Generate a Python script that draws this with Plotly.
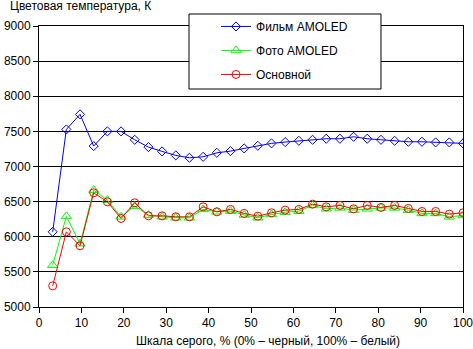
import plotly.graph_objects as go

n = 31
x_vals = [round(i * 100 / n, 2) for i in range(1, n + 1)]

film_amoled = [6070, 7528, 7742, 7291, 7500, 7500, 7380, 7276, 7215, 7158, 7124, 7138, 7195, 7219, 7257,
               7295, 7329, 7348, 7366, 7380, 7395, 7395, 7423, 7395, 7380, 7366, 7352, 7352, 7343, 7343, 7329]
foto_amoled = [5595, 6290, 5900, 6664, 6521, 6284, 6436, 6308, 6284, 6270, 6270, 6389, 6355, 6365, 6310,
               6270, 6317, 6350, 6365, 6446, 6398, 6410, 6379, 6398, 6410, 6410, 6379, 6332, 6332, 6284, 6303]
osnovnoy = [5301, 6070, 5871, 6626, 6497, 6260, 6483, 6298, 6298, 6284, 6284, 6426, 6355, 6389, 6332,
            6293, 6341, 6379, 6389, 6464, 6426, 6446, 6398, 6446, 6417, 6446, 6403, 6360, 6360, 6322, 6341]

series_names = ["Фильм AMOLED", "Фото AMOLED", "Основной"]
x_ticks = list(range(0, 101, 10))
y_ticks = list(range(5000, 9001, 500))

FONT = "Liberation Sans, Arial, sans-serif"

fig = go.Figure()
fig.add_trace(go.Scatter(x=x_vals, y=film_amoled, name=series_names[0], mode="lines+markers",
                         line=dict(color="#0000FF", width=1), legendgroup="a",
                         marker=dict(symbol="diamond-open", size=7, color="#0000FF", line=dict(width=1))))
fig.add_trace(go.Scatter(x=x_vals, y=foto_amoled, name=series_names[1], mode="lines+markers",
                         line=dict(color="#00FF00", width=1), legendgroup="b",
                         marker=dict(symbol="triangle-up-open", size=9, color="#00FF00", line=dict(width=1))))
fig.add_trace(go.Scatter(x=x_vals, y=osnovnoy, name=series_names[2], mode="lines+markers",
                         line=dict(color="#FF0000", width=1), legendgroup="c",
                         marker=dict(symbol="circle-open", size=8, color="#FF0000", line=dict(width=1))))

fig.update_layout(
    width=473, height=349,
    margin=dict(l=39, r=10, t=26, b=42, autoexpand=False),
    paper_bgcolor="white", plot_bgcolor="white",
    font=dict(family=FONT, size=12, color="black"),
    showlegend=True,
    legend=dict(x=0.4175, y=1.05, xanchor="left", yanchor="top",
                bgcolor="rgba(0,0,0,0)", borderwidth=0,
                traceorder="grouped", tracegroupgap=5,
                font=dict(family=FONT, size=12, color="black")),
    shapes=[dict(type="rect", xref="paper", yref="paper",
                 x0=0.3538, x1=0.8066, y0=0.7758, y1=1.0427,
                 line=dict(color="black", width=1), fillcolor="white", layer="above")],
    annotations=[
        dict(text="Цветовая температура, К", xref="paper", yref="paper",
             x=-0.0731, y=1.071, xanchor="left", yanchor="middle", showarrow=False,
             font=dict(family=FONT, size=12, color="black")),
        dict(text="Шкала серого, % (0% – черный, 100% – белый)", xref="paper", yref="paper",
             x=0.54, y=-0.121, xanchor="center", yanchor="middle", showarrow=False,
             font=dict(family=FONT, size=12, color="black")),
    ],
)

fig.update_xaxes(range=[0, 100], tickvals=x_ticks, ticks="outside", ticklen=5, tickcolor="black",
                 showline=True, linecolor="black", linewidth=1, mirror=True, automargin=False,
                 ticklabeloverflow="allow",
                 showgrid=False, zeroline=False, tickfont=dict(family=FONT, size=12, color="black"))
fig.update_yaxes(range=[5000, 9000], tickvals=y_ticks, ticks="outside", ticklen=5, tickcolor="black",
                 showline=True, linecolor="black", linewidth=1, mirror=True, automargin=False,
                 ticklabeloverflow="allow",
                 showgrid=True, gridcolor="black", gridwidth=1, zeroline=False,
                 tickfont=dict(family=FONT, size=12, color="black"))

fig.write_html("out.html")
